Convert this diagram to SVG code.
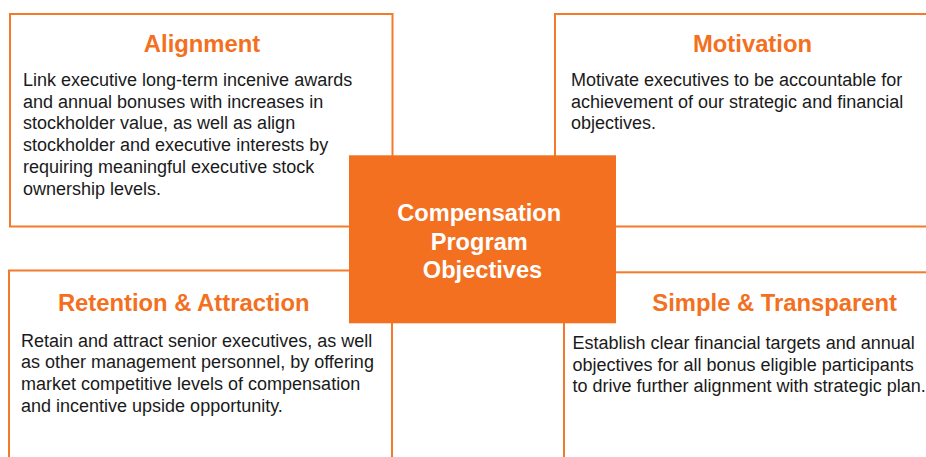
<svg xmlns="http://www.w3.org/2000/svg" width="926" height="457" viewBox="0 0 926 457">
<style>
.box{fill:#fff;stroke:#F47A2B;stroke-width:2}
.title{font-family:"Liberation Sans",Arial,sans-serif;font-weight:bold;font-size:23.8px;fill:#F37021;text-anchor:middle}
.body{font-family:"Liberation Sans",Arial,sans-serif;font-size:18px;fill:#1a1a1a}
.ctitle{font-family:"Liberation Sans",Arial,sans-serif;font-weight:bold;font-size:23.6px;fill:#fff;text-anchor:middle}
</style>
<rect width="926" height="457" fill="#fff"/>
<g id="alignment">
<rect class="box" x="10" y="14" width="382.5" height="212.5"/>
<text class="title" x="202" y="51.5">Alignment</text>
<text class="body" x="23" y="86">
<tspan x="23" y="86">Link executive long-term incenive awards</tspan>
<tspan x="23" y="107.7">and annual bonuses with increases in</tspan>
<tspan x="23" y="129.4">stockholder value, as well as align</tspan>
<tspan x="23" y="151.1">stockholder and executive interests by</tspan>
<tspan x="23" y="172.8">requiring meaningful executive stock</tspan>
<tspan x="23" y="194.5">ownership levels.</tspan>
</text>
</g>
<g id="motivation">
<rect class="box" x="555" y="14" width="400" height="212.5"/>
<text class="title" x="752.5" y="51.5">Motivation</text>
<text class="body">
<tspan x="571" y="86">Motivate executives to be accountable for</tspan>
<tspan x="571" y="107.7">achievement of our strategic and financial</tspan>
<tspan x="571" y="129.4">objectives.</tspan>
</text>
</g>
<g id="retention">
<rect class="box" x="9" y="270.5" width="383" height="220"/>
<text class="title" x="183.7" y="310.7">Retention &amp; Attraction</text>
<text class="body">
<tspan x="21" y="346.5">Retain and attract senior executives, as well</tspan>
<tspan x="21" y="368.2">as other management personnel, by offering</tspan>
<tspan x="21" y="389.9">market competitive levels of compensation</tspan>
<tspan x="21" y="411.6">and incentive upside opportunity.</tspan>
</text>
</g>
<g id="simple">
<rect class="box" x="564" y="272.3" width="400" height="220"/>
<text class="title" x="774.7" y="310.7">Simple &amp; Transparent</text>
<text class="body">
<tspan x="572.5" y="349">Establish clear financial targets and annual</tspan>
<tspan x="572.5" y="370.7">objectives for all bonus eligible participants</tspan>
<tspan x="572.5" y="392.4">to drive further alignment with strategic plan.</tspan>
</text>
</g>
<g id="center">
<rect x="349" y="155.3" width="267" height="168" fill="#F37021"/>
<text class="ctitle">
<tspan x="482.5" y="220.5">Compensation</tspan>
<tspan x="482.5" y="249.5">Program</tspan>
<tspan x="482.5" y="278.3">Objectives</tspan>
</text>
</g>
</svg>
